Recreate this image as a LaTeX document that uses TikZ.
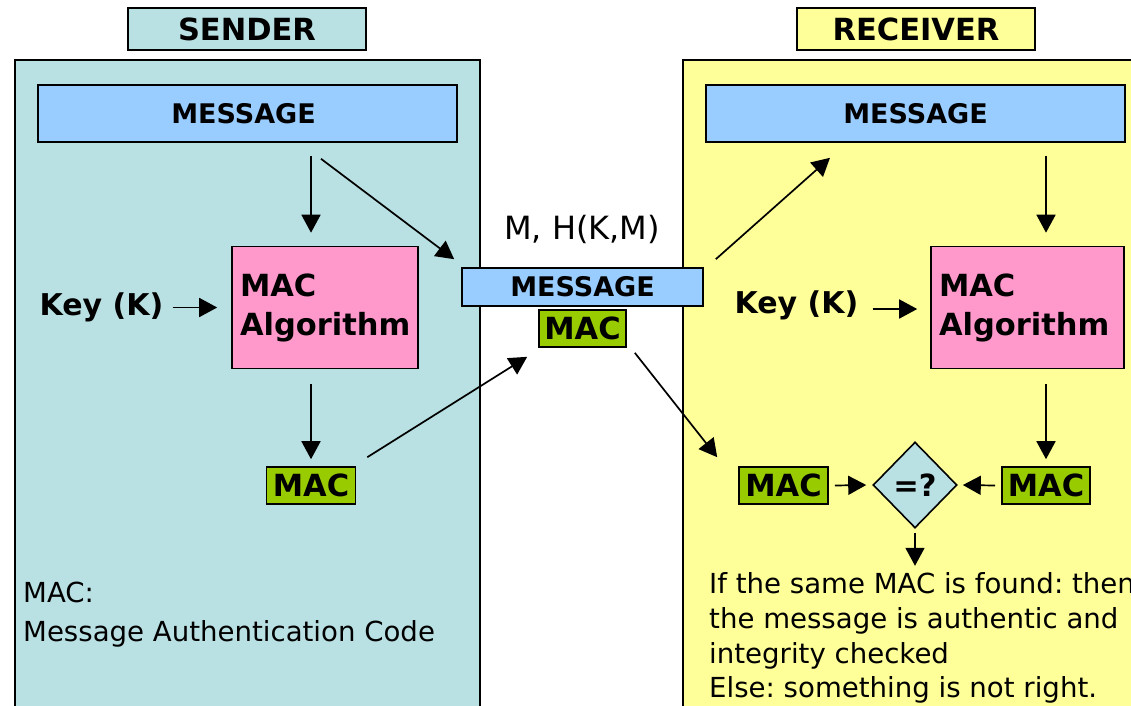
\documentclass[tikz,border=0pt]{standalone}
\usepackage{fontspec}
\setmainfont{DejaVu Sans}
\usetikzlibrary{shapes.geometric,arrows.meta,calc}
\definecolor{sendbg}{HTML}{B9E0E3}
\definecolor{recvbg}{HTML}{FFFF99}
\definecolor{msgblue}{HTML}{99CCFF}
\definecolor{algpink}{HTML}{FF99CC}
\definecolor{macgreen}{HTML}{99CC00}
\frenchspacing
\begin{document}
\begin{tikzpicture}[x=1pt,y=-1pt,
  box/.style={draw=black, line width=1.6pt, inner sep=0pt,
    font=\bfseries\fontsize{30.5}{39}\selectfont},
  title/.style={box, minimum width=238pt, minimum height=42pt},
  panel/.style={draw=black, line width=1.6pt},
  msgbox/.style={box, fill=msgblue, font=\bfseries\fontsize{27}{32}\selectfont},
  algbox/.style={box, fill=algpink, minimum height=122pt, align=left,
    inner xsep=8pt},
  macbox/.style={box, fill=macgreen, minimum height=37pt},
  keytext/.style={inner sep=0pt, font=\bfseries\fontsize{30}{36}\selectfont},
  note/.style={inner sep=0pt, anchor=base west, font=\fontsize{27.6}{35}\selectfont},
  arr/.style={line width=1.7pt, -{Triangle[length=18pt,width=19pt]}},
]
\useasboundingbox (0,0) rectangle (1131,705);
\clip (0,0) rectangle (1131,705);

% the two sides
\draw[panel, fill=sendbg] (15,60) rectangle (480,730);
\draw[panel, fill=recvbg] (683,60) rectangle (1150,730);

% sender side
\node[title, fill=sendbg] (senderLbl) at (247,29) {SENDER};
\node[msgbox, minimum width=419pt, minimum height=57pt] (msgS) at (247.5,113.5) {\hspace*{-8pt}MESSAGE};
\node[algbox, text width=170pt] (algS) at (325,307.5) {MAC\\Algorithm};
\node[keytext] (keyS) at (101.5,307.5) {Key (K)};
\node[macbox, minimum width=89pt] (macS) at (311,485.5) {MAC};
\node[note] (defS1) at (23,602) {MAC:};
\node[note] (defS2) at (23,641) {Message Authentication Code};

% transmitted data
\node[inner sep=0pt, font=\fontsize{32}{38}\selectfont] (sent) at (582,229) {M, H(K,M)};
\node[msgbox, minimum width=241pt, minimum height=38pt] (msgM) at (582.5,287) {MESSAGE};
\node[macbox, minimum width=87pt] (macM) at (582.5,328.5) {MAC};

% receiver side
\node[title, fill=recvbg] (recvLbl) at (916,29) {RECEIVER};
\node[msgbox, minimum width=419pt, minimum height=57pt] (msgR) at (915.5,113.5) {MESSAGE};
\node[algbox, text width=177pt] (algR) at (1027.5,307.5) {MAC\\Algorithm};
\node[keytext] (keyR) at (796.5,305.5) {Key (K)};
\node[macbox, minimum width=89pt] (macR1) at (783.5,485.5) {MAC};
\node[macbox, minimum width=88pt] (macR2) at (1046,485.5) {MAC};
\node[box, diamond, fill=sendbg, minimum width=84pt, minimum height=86pt] (cmp) at (915,485) {=?};
\node[note] (res1) at (709,593) {If the same MAC is found: then};
\node[note] (res2) at (709,628) {the message is authentic and};
\node[note] (res3) at (709,663) {integrity checked};
\node[note] (res4) at (709,697) {Else: something is not right.};

% sender connectors
\draw[arr] ([xshift=63.5pt,yshift=-13pt]msgS.south) -- ([xshift=-14pt,yshift=13pt]algS.north);
\draw[arr] ([xshift=73.5pt,yshift=-16pt]msgS.south) -- ([xshift=-7pt,yshift=8pt]msgM.north west);
\draw[arr] ([xshift=9pt]keyS.east) -- ([xshift=-14pt]algS.west);
\draw[arr] ([xshift=-14pt,yshift=-15pt]algS.south) -- ([yshift=7pt]macS.north);
\draw[arr] ([xshift=11pt,yshift=9pt]macS.north east) -- ([xshift=-11pt,yshift=-9pt]macM.south west);

% receiver connectors
\draw[arr] ([xshift=12pt,yshift=8pt]msgM.north east) -- ([xshift=-85.5pt,yshift=-15pt]msgR.south);
\draw[arr] ([xshift=8pt,yshift=-5pt]macM.south east) -- ([xshift=-21pt,yshift=9pt]macR1.north west);
\draw[arr] ([xshift=130.5pt,yshift=-13pt]msgR.south) -- ([xshift=18.5pt,yshift=13pt]algR.north);
\draw[arr] ([xshift=14pt,yshift=-3.5pt]keyR.east) -- ([xshift=-13pt,yshift=-1.5pt]algR.west);
\draw[arr] ([xshift=18.5pt,yshift=-15pt]algR.south) -- ([yshift=7pt]macR2.north);
\draw[arr] ([xshift=6pt]macR1.east) -- ([xshift=-6pt]cmp.west);
\draw[arr] ([xshift=-6pt]macR2.west) -- ([xshift=5pt]cmp.east);
\draw[arr] ([yshift=-4pt]cmp.south) -- ++(0,33);
\end{tikzpicture}
\end{document}
